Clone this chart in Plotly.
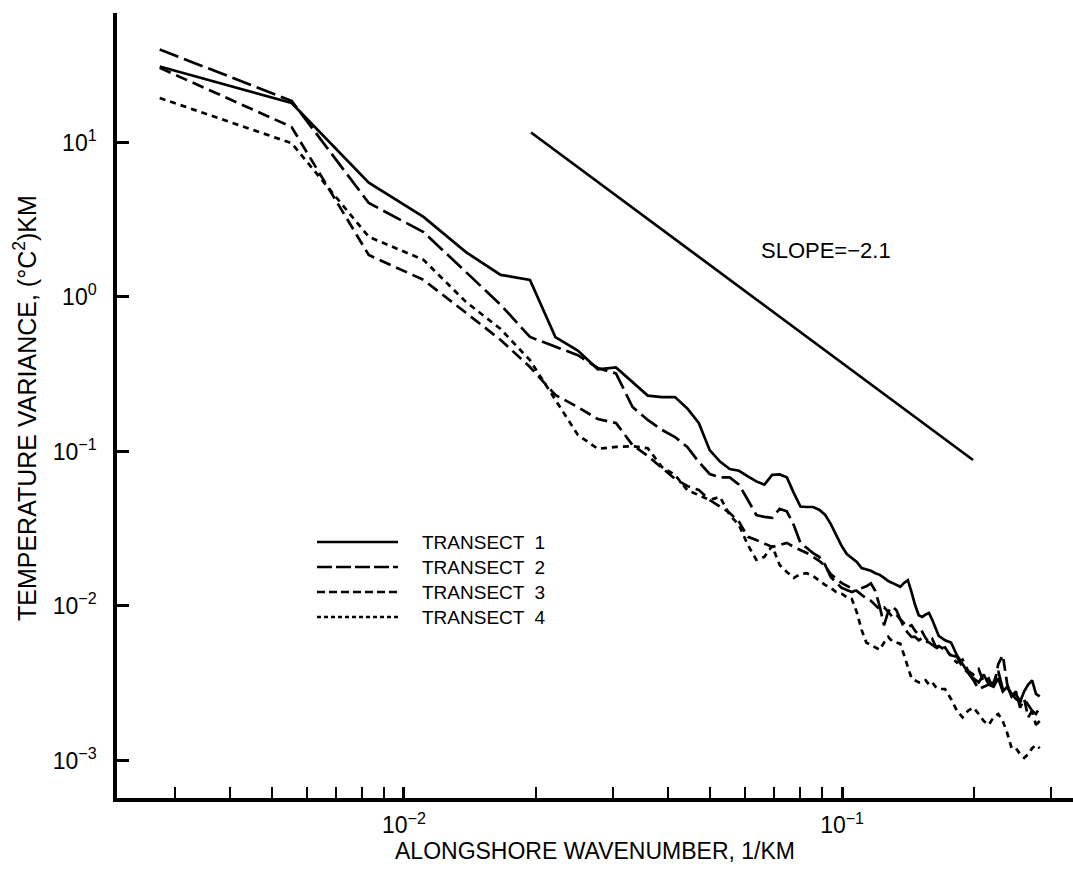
import plotly.graph_objects as go

# ---------------- data ----------------
FUNDAMENTAL = 0.00277  # 1/KM, lowest resolved wavenumber
harmonics = [1, 2, 3, 4, 5, 6, 7, 8, 9, 10,
             11, 12, 13, 14, 15, 16, 17, 18, 19, 20,
             21, 22, 23, 24, 25, 26, 27, 28, 29, 30,
             31, 32, 33, 34, 35, 36, 37, 38, 39, 40,
             41, 42, 43, 44, 45, 46, 47, 48, 49, 50,
             51, 52, 53, 54, 55, 56, 57, 58, 59, 60,
             62, 64, 66, 68, 70, 72, 74, 76, 78, 80,
             82, 84, 86, 88, 90, 92, 94, 96, 98, 100, 102]

transect1 = [31, 18, 5.5, 3.3, 1.95, 1.39, 1.29, 0.55, 0.45, 0.34,
             0.35, 0.28, 0.23, 0.225, 0.225, 0.19, 0.153, 0.102, 0.086, 0.077,
             0.075, 0.069, 0.064, 0.061, 0.0705, 0.071, 0.068, 0.054, 0.044, 0.0437,
             0.0437, 0.042, 0.039, 0.034, 0.029, 0.0245, 0.0217, 0.0205, 0.0193, 0.0176,
             0.0172, 0.0169, 0.0163, 0.0159, 0.0152, 0.0145, 0.0141, 0.0137, 0.0133, 0.0141,
             0.0147, 0.0123, 0.0101, 0.0087, 0.0085, 0.0088, 0.009, 0.0081, 0.0072, 0.0064,
             0.006, 0.0058, 0.0048, 0.0042, 0.0037, 0.0034, 0.0032, 0.0036, 0.0031, 0.003,
             0.0034, 0.0028, 0.003, 0.0026, 0.0027, 0.0024, 0.0028, 0.0031, 0.0033, 0.0027, 0.0026]

transect2 = [40, 18.6, 4.06, 2.63, 1.45, 0.89, 0.551, 0.475, 0.42, 0.347,
             0.32, 0.194, 0.16, 0.138, 0.124, 0.107, 0.0855, 0.0715, 0.068, 0.068,
             0.061, 0.0485, 0.0388, 0.0377, 0.0372, 0.0425, 0.041, 0.0334, 0.0256, 0.0237,
             0.022, 0.0208, 0.0185, 0.0154, 0.0141, 0.0131, 0.0127, 0.0123, 0.0127, 0.0131,
             0.0134, 0.014, 0.0125, 0.0099, 0.0075, 0.0092, 0.0099, 0.0094, 0.0081, 0.0072,
             0.0067, 0.0063, 0.0063, 0.006, 0.0062, 0.0059, 0.0058, 0.0056, 0.0054, 0.0055,
             0.0052, 0.0048, 0.0047, 0.004, 0.0037, 0.0033, 0.0029, 0.003, 0.0031, 0.0032,
             0.0038, 0.0029, 0.003, 0.0027, 0.0025, 0.0024, 0.0025, 0.0023, 0.0021, 0.002, 0.0022]

transect3 = [30.4, 12.6, 1.87, 1.29, 0.79, 0.527, 0.352, 0.232, 0.194, 0.162,
             0.153, 0.11, 0.0935, 0.078, 0.0664, 0.0598, 0.0563, 0.0485, 0.0437, 0.04,
             0.035, 0.028, 0.0267, 0.0252, 0.0241, 0.0248, 0.0256, 0.0241, 0.023, 0.022,
             0.0208, 0.0196, 0.0182, 0.0161, 0.015, 0.0141, 0.0135, 0.013, 0.0125, 0.0118,
             0.0112, 0.0108, 0.0101, 0.0095, 0.0098, 0.0092, 0.0085, 0.0088, 0.0082, 0.0077,
             0.0073, 0.0075, 0.0069, 0.0065, 0.0068, 0.0062, 0.0058, 0.0061, 0.0055, 0.0052,
             0.0054, 0.0047, 0.0043, 0.0045, 0.0038, 0.0036, 0.0039, 0.0032, 0.0034, 0.0029,
             0.0042, 0.0048, 0.0031, 0.0026, 0.0028, 0.0022, 0.0025, 0.0019, 0.0021, 0.0017, 0.0018]

transect4 = [19.4, 9.9, 2.45, 1.74, 0.93, 0.62, 0.39, 0.216, 0.128, 0.104,
             0.107, 0.108, 0.105, 0.0794, 0.0705, 0.0563, 0.0523, 0.0485, 0.0508, 0.0388,
             0.0334, 0.0248, 0.0199, 0.0208, 0.0245, 0.0184, 0.0166, 0.0152, 0.0161, 0.0163,
             0.0156, 0.0145, 0.0137, 0.0131, 0.0123, 0.012, 0.0114, 0.0111, 0.0091, 0.007,
             0.0058, 0.0056, 0.0054, 0.0052, 0.0058, 0.0063, 0.0059, 0.0058, 0.0057, 0.0048,
             0.004, 0.0034, 0.0033, 0.0032, 0.0032, 0.0033, 0.0031, 0.0032, 0.003, 0.0029,
             0.0029, 0.0025, 0.0021, 0.0019, 0.0021, 0.0022, 0.002, 0.0018, 0.0017, 0.0019,
             0.002, 0.0018, 0.0015, 0.0012, 0.0012, 0.0011, 0.00104, 0.0011, 0.0012, 0.00126, 0.0012]

slope_x = [0.0195, 0.199]
slope_y = [11.6, 0.088]
slope_label = "SLOPE=\u22122.1"

series_names = ["TRANSECT  1", "TRANSECT  2", "TRANSECT  3", "TRANSECT  4"]
series_values = [transect1, transect2, transect3, transect4]
series_dash = ["solid", "20px,6px", "12px,6px", "6px,5px"]
legend_dash = ["solid", "15px,4px", "8px,4px", "4px,3px"]

x_tickvals = [0.01, 0.1]
x_ticktext = ["10<sup>\u22122</sup>", "10<sup>\u22121</sup>"]
x_minor = [0.003, 0.004, 0.005, 0.006, 0.007, 0.008, 0.009,
           0.02, 0.03, 0.04, 0.05, 0.06, 0.07, 0.08, 0.09, 0.2, 0.3]
y_tickvals = [0.001, 0.01, 0.1, 1, 10]
y_ticktext = ["10<sup>\u22123</sup>", "10<sup>\u22122</sup>", "10<sup>\u22121</sup>",
              "10<sup>0</sup>", "10<sup>1</sup>"]

x_title = "ALONGSHORE WAVENUMBER, 1/KM"
y_title = "TEMPERATURE VARIANCE, (\u00b0C<sup>2</sup>)KM"

wavenumber = [n * FUNDAMENTAL for n in harmonics]

# ---------------- figure ----------------
FONT = "Liberation Sans, Arial, Helvetica, sans-serif"
fig = go.Figure()
for name, vals, dash in zip(series_names, series_values, series_dash):
    fig.add_trace(go.Scatter(x=wavenumber, y=vals, mode="lines", name=name,
                             line=dict(color="black", width=2.7, dash=dash)))
fig.add_trace(go.Scatter(x=slope_x, y=slope_y, mode="lines", name="slope",
                         line=dict(color="black", width=2.7)))

W, H = 1073, 869
L, R, T, B = 117, 0, 13, 71
PW = W - L - R
PH = H - T - B
fig.update_layout(
    width=W, height=H,
    margin=dict(l=L, r=R, t=T, b=B),
    paper_bgcolor="white", plot_bgcolor="white",
    showlegend=False,
    font=dict(family=FONT, color="black"),
)
fig.update_xaxes(
    type="log", range=[-2.655, -0.473],
    showline=True, linewidth=3.5, linecolor="black", mirror=False,
    showgrid=False, zeroline=False,
    ticks="inside", ticklen=11, tickwidth=2.5, tickcolor="black",
    tickvals=x_tickvals, ticktext=x_ticktext,
    tickfont=dict(family=FONT, size=23, color="black"),
    ticklabelstandoff=4,
    minor=dict(ticks="inside", ticklen=11, tickwidth=2, tickcolor="black",
               tickvals=x_minor, showgrid=False),
)
fig.update_yaxes(
    type="log", range=[-3.243, 1.838],
    showline=True, linewidth=3.5, linecolor="black", mirror=False,
    showgrid=False, zeroline=False,
    ticks="inside", ticklen=12, tickwidth=2.5, tickcolor="black",
    tickvals=y_tickvals, ticktext=y_ticktext,
    tickfont=dict(family=FONT, size=23, color="black"),
    ticklabelstandoff=12,
)

# axis titles
fig.add_annotation(xref="paper", yref="paper", x=(595 - L) / PW, y=(H - B - 851) / PH,
                   text=x_title, showarrow=False, xanchor="center", yanchor="middle",
                   font=dict(family=FONT, size=23, color="black"))
fig.add_annotation(xref="paper", yref="paper", x=(25 - L) / PW, y=(H - B - 408) / PH,
                   text=y_title, textangle=-90, showarrow=False,
                   xanchor="center", yanchor="middle",
                   font=dict(family=FONT, size=25, color="black"))

# legend drawn as sample lines + labels
legend_rows = [542, 567, 592, 617]
for name, dash, row in zip(series_names, legend_dash, legend_rows):
    yp = (H - B - row) / PH
    fig.add_shape(type="line", xref="paper", yref="paper",
                  x0=(317 - L) / PW, x1=(398 - L) / PW, y0=yp, y1=yp,
                  line=dict(color="black", width=2.7, dash=dash))
    fig.add_annotation(xref="paper", yref="paper", x=(420 - L) / PW, y=yp,
                       text=name, showarrow=False, xanchor="left", yanchor="middle",
                       font=dict(family=FONT, size=19, color="black"))

fig.add_annotation(x=-1.19, y=0.30, xref="x", yref="y", text=slope_label,
                   showarrow=False, xanchor="left", yanchor="middle",
                   font=dict(family=FONT, size=22, color="black"))

fig.write_html("out.html", config={"displayModeBar": False},
               post_script="document.body.style.margin='0';")
